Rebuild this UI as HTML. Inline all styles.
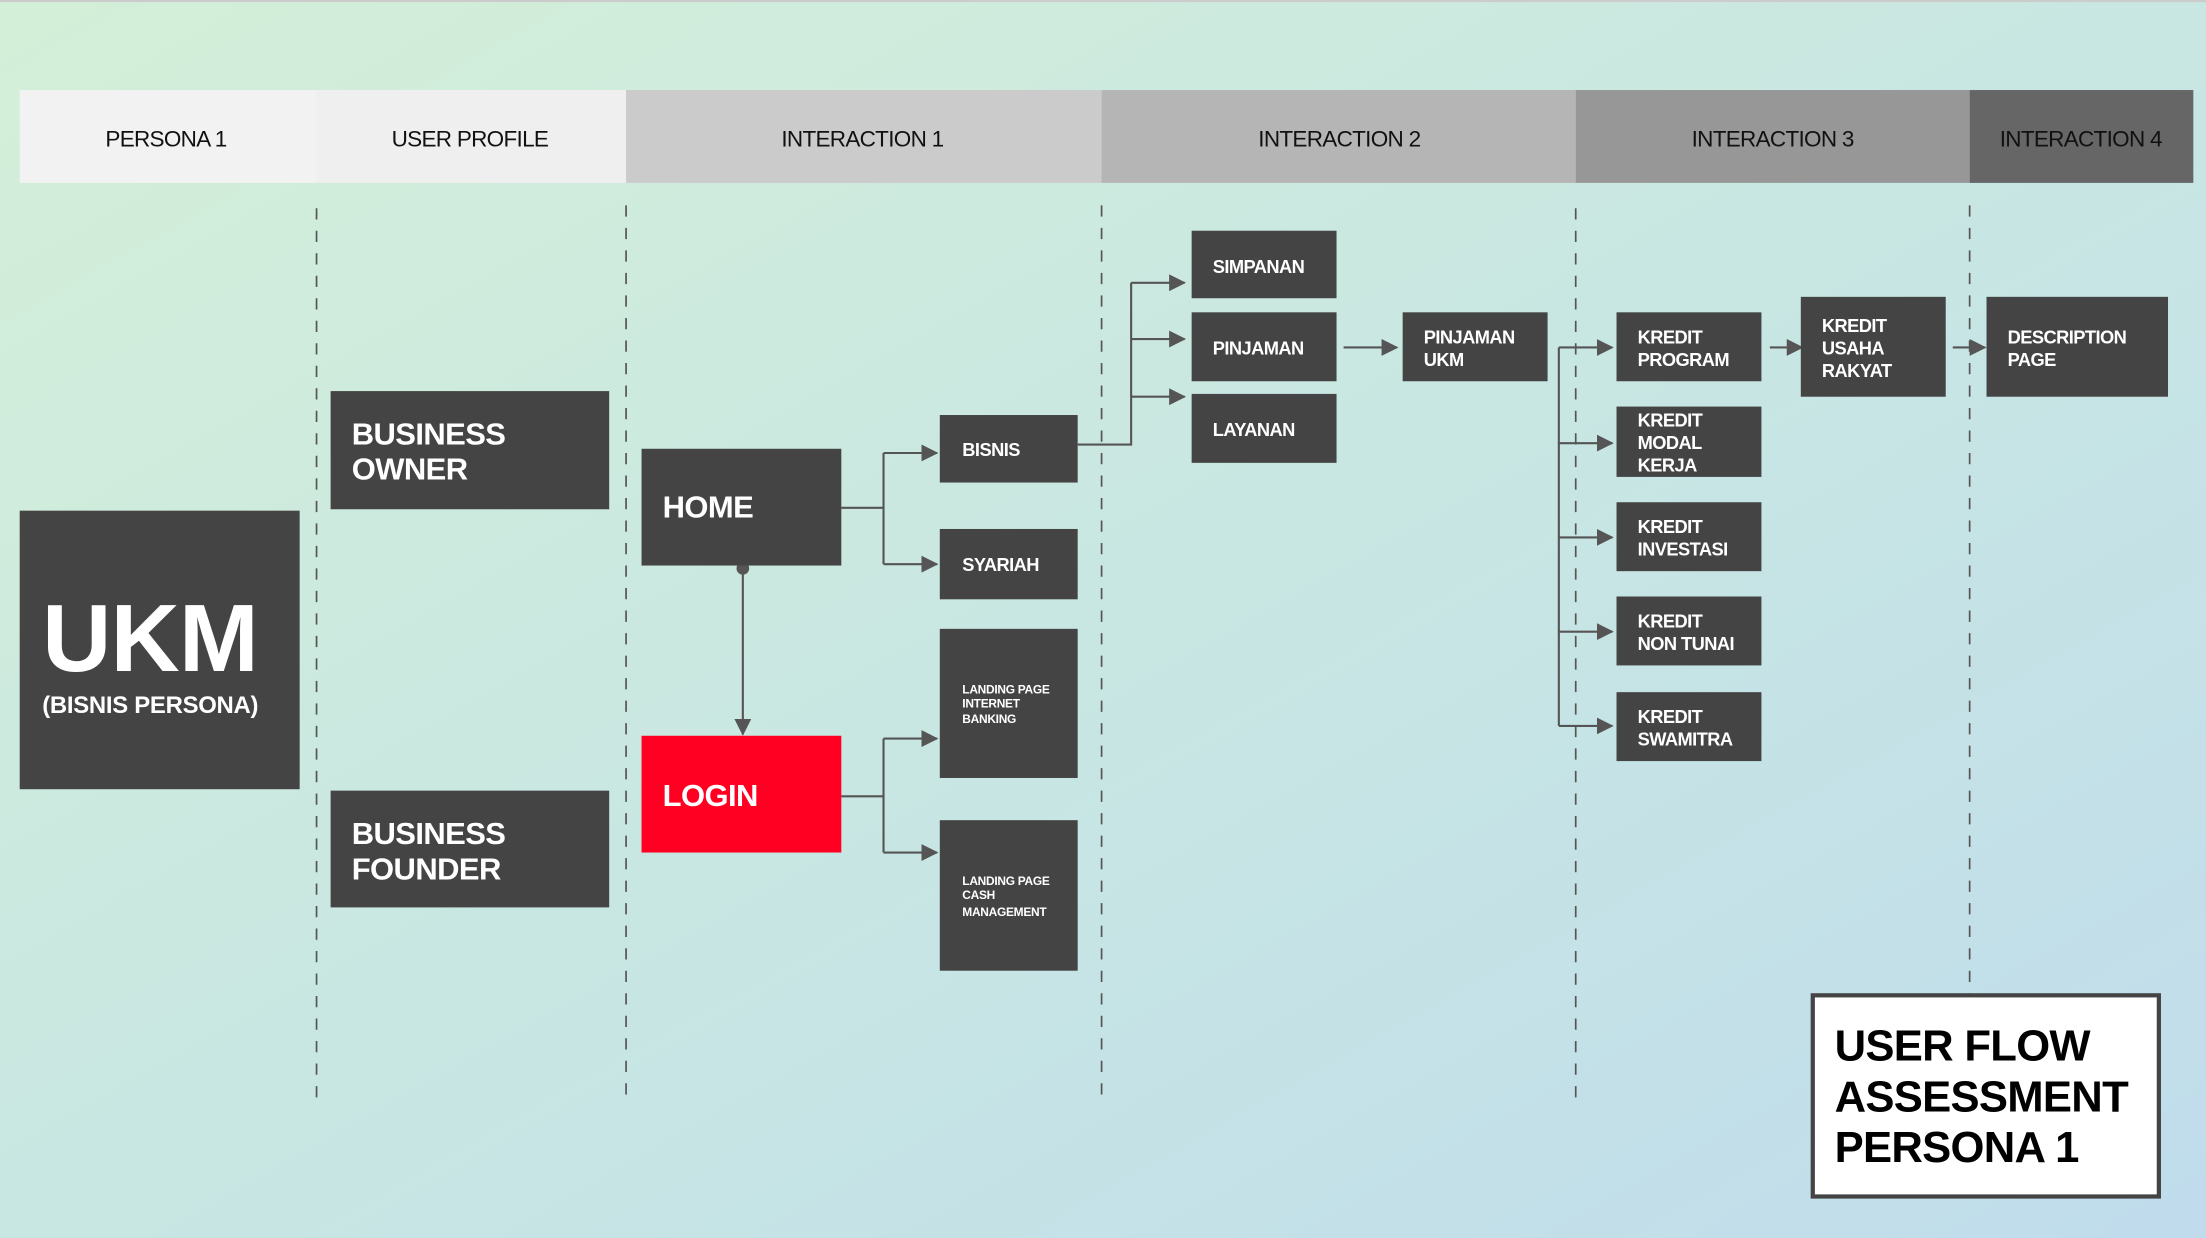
<!DOCTYPE html>
<html><head><meta charset="utf-8"><style>
html,body{margin:0;padding:0;width:2206px;height:1238px;overflow:hidden;}
svg{display:block;font-family:"Liberation Sans",sans-serif;}
</style></head><body>
<svg width="2206" height="1238" viewBox="0 0 1568 880" preserveAspectRatio="none">
<defs>
<linearGradient id="bg" x1="0" y1="0" x2="1" y2="1">
<stop offset="0" stop-color="#d4efd8"/><stop offset="0.55" stop-color="#c7e6e3"/><stop offset="1" stop-color="#c0dcec"/>
</linearGradient>
<marker id="ar" markerWidth="12" markerHeight="12" refX="11" refY="6" orient="auto" markerUnits="userSpaceOnUse"><path d="M0,0 L12,6 L0,12 z" fill="#555"/></marker>
</defs>
<rect width="1568" height="880" fill="url(#bg)"/>
<rect x="0" y="0" width="1568" height="1.5" fill="#ccc"/>
<!-- header -->
<rect x="14" y="64" width="211" height="66" fill="#f2f2f2"/>
<rect x="225" y="64" width="220" height="66" fill="#efefef"/>
<rect x="445" y="64" width="338" height="66" fill="#cbcbcb"/>
<rect x="783" y="64" width="337" height="66" fill="#b5b5b5"/>
<rect x="1120" y="64" width="280" height="66" fill="#979797"/>
<rect x="1400" y="64" width="159" height="66" fill="#666"/>
<g font-size="16" fill="#111" text-anchor="middle" letter-spacing="-0.5">
<text x="118" y="104">PERSONA 1</text><text x="334" y="104">USER PROFILE</text>
<text x="613" y="104">INTERACTION 1</text><text x="952" y="104">INTERACTION 2</text>
<text x="1260" y="104">INTERACTION 3</text><text x="1479" y="104">INTERACTION 4</text>
</g>
<!-- dashed -->
<g stroke="#555" stroke-width="1.2" stroke-dasharray="8,8">
<line x1="225" y1="148" x2="225" y2="782"/><line x1="445" y1="146" x2="445" y2="782"/>
<line x1="783" y1="146" x2="783" y2="778"/><line x1="1120" y1="148" x2="1120" y2="782"/>
<line x1="1400" y1="146" x2="1400" y2="708"/>
</g>
<!-- connectors -->
<g stroke="#555" stroke-width="1.5" fill="none">
<polyline points="598,361 628,361"/><line x1="628" y1="322" x2="628" y2="401"/>
<line x1="628" y1="322" x2="666" y2="322" marker-end="url(#ar)"/><line x1="628" y1="401" x2="666" y2="401" marker-end="url(#ar)"/>
<polyline points="598,566 628,566"/><line x1="628" y1="525" x2="628" y2="606"/>
<line x1="628" y1="525" x2="666" y2="525" marker-end="url(#ar)"/><line x1="628" y1="606" x2="666" y2="606" marker-end="url(#ar)"/>
<line x1="528" y1="404" x2="528" y2="522" marker-end="url(#ar)"/>
<polyline points="766,316 804,316 804,201"/>
<line x1="804" y1="201" x2="842" y2="201" marker-end="url(#ar)"/><line x1="804" y1="241" x2="842" y2="241" marker-end="url(#ar)"/><line x1="804" y1="282" x2="842" y2="282" marker-end="url(#ar)"/>
<line x1="955" y1="247" x2="993" y2="247" marker-end="url(#ar)"/>
<line x1="1108" y1="247" x2="1108" y2="516"/>
<line x1="1108" y1="247" x2="1146" y2="247" marker-end="url(#ar)"/><line x1="1108" y1="315" x2="1146" y2="315" marker-end="url(#ar)"/>
<line x1="1108" y1="382" x2="1146" y2="382" marker-end="url(#ar)"/><line x1="1108" y1="449" x2="1146" y2="449" marker-end="url(#ar)"/>
<line x1="1108" y1="516" x2="1146" y2="516" marker-end="url(#ar)"/>
<line x1="1258" y1="247" x2="1281" y2="247" marker-end="url(#ar)"/>
<line x1="1388" y1="247" x2="1411" y2="247" marker-end="url(#ar)"/>
</g>
<circle cx="528" cy="404" r="4.5" fill="#555"/>
<!-- boxes -->
<g fill="#444">
<rect x="14" y="363" width="199" height="198"/>
<rect x="235" y="278" width="198" height="84"/><rect x="235" y="562" width="198" height="83"/>
<rect x="456" y="319" width="142" height="83"/>
<rect x="668" y="295" width="98" height="48"/><rect x="668" y="376" width="98" height="50"/>
<rect x="668" y="447" width="98" height="106"/><rect x="668" y="583" width="98" height="107"/>
<rect x="847" y="164" width="103" height="48"/><rect x="847" y="222" width="103" height="49"/><rect x="847" y="280" width="103" height="49"/>
<rect x="997" y="222" width="103" height="49"/>
<rect x="1149" y="222" width="103" height="49"/><rect x="1149" y="289" width="103" height="50"/>
<rect x="1149" y="357" width="103" height="49"/><rect x="1149" y="424" width="103" height="49"/><rect x="1149" y="492" width="103" height="49"/>
<rect x="1280" y="211" width="103" height="71"/><rect x="1412" y="211" width="129" height="71"/>
</g>
<rect x="456" y="523" width="142" height="83" fill="#ff0022"/>
<rect x="1288.5" y="707.5" width="246" height="143" fill="#fff" stroke="#444" stroke-width="3"/>
<!-- text -->
<g fill="#fff" font-weight="bold" letter-spacing="-0.4">
<text x="30" y="477" font-size="68" letter-spacing="-0.5">UKM</text>
<text x="30" y="507" font-size="17" letter-spacing="-0.2">(BISNIS PERSONA)</text>
<text x="250" y="316" font-size="22">BUSINESS</text><text x="250" y="341" font-size="22">OWNER</text>
<text x="250" y="600" font-size="22">BUSINESS</text><text x="250" y="625" font-size="22">FOUNDER</text>
<text x="471" y="368" font-size="22">HOME</text><text x="471" y="573" font-size="22">LOGIN</text>
<g font-size="13">
<text x="684" y="324">BISNIS</text><text x="684" y="406">SYARIAH</text>
<text x="862" y="194">SIMPANAN</text><text x="862" y="252">PINJAMAN</text><text x="862" y="310">LAYANAN</text>
<text x="1012" y="244">PINJAMAN</text><text x="1012" y="260">UKM</text>
<text x="1164" y="244">KREDIT</text><text x="1164" y="260">PROGRAM</text>
<text x="1164" y="303">KREDIT</text><text x="1164" y="319">MODAL</text><text x="1164" y="335">KERJA</text>
<text x="1164" y="379">KREDIT</text><text x="1164" y="395">INVESTASI</text>
<text x="1164" y="446">KREDIT</text><text x="1164" y="462">NON TUNAI</text>
<text x="1164" y="514">KREDIT</text><text x="1164" y="530">SWAMITRA</text>
<text x="1295" y="236">KREDIT</text><text x="1295" y="252">USAHA</text><text x="1295" y="268">RAKYAT</text>
<text x="1427" y="244">DESCRIPTION</text><text x="1427" y="260">PAGE</text>
</g>
<g font-size="8.5" letter-spacing="-0.2">
<text x="684" y="493">LANDING PAGE</text><text x="684" y="503">INTERNET</text><text x="684" y="514">BANKING</text>
<text x="684" y="629">LANDING PAGE</text><text x="684" y="639">CASH</text><text x="684" y="651">MANAGEMENT</text>
</g>
</g>
<g fill="#000" font-weight="bold" font-size="31" letter-spacing="-0.5">
<text x="1304" y="754">USER FLOW</text><text x="1304" y="790">ASSESSMENT</text><text x="1304" y="826">PERSONA 1</text>
</g>
</svg>
</body></html>
